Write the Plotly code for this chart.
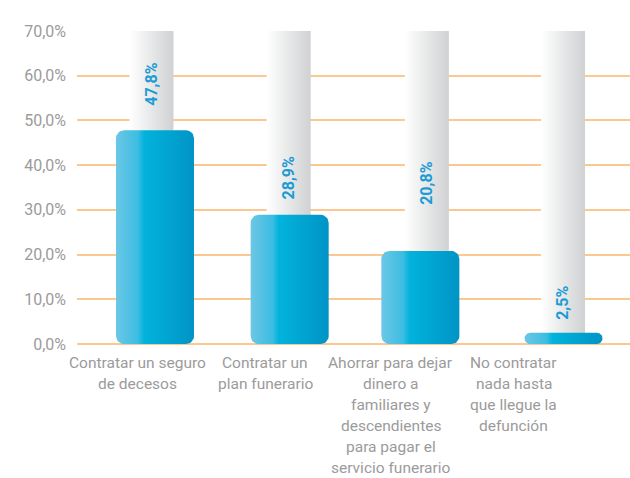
import numpy as np
import plotly.graph_objects as go

# Survey answers and their shares (%)
categories = [
    "Contratar un seguro<br>de decesos",
    "Contratar un<br>plan funerario",
    "Ahorrar para dejar<br>dinero a<br>familiares y<br>descendientes<br>para pagar el<br>servicio funerario",
    "No contratar<br>nada hasta<br>que llegue la<br>defunción",
]
values = [47.8, 28.9, 20.8, 2.5]
value_labels = ["47,8%", "28,9%", "20,8%", "2,5%"]

y_ticks = [0, 10, 20, 30, 40, 50, 60, 70]
y_tick_labels = ["0,0%", "10,0%", "20,0%", "30,0%", "40,0%", "50,0%", "60,0%", "70,0%"]

# ---- layout geometry ----
W, H = 630, 478
M_L, M_R, M_T, M_B = 77, 0, 31, 134
X_RANGE = [-0.556, 3.49]
Y_RANGE = [0, 70]
px_per_x = (W - M_L - M_R) / (X_RANGE[1] - X_RANGE[0])
px_per_y = (H - M_T - M_B) / (Y_RANGE[1] - Y_RANGE[0])

BAR_W = 78 / px_per_x        # blue bar width in axis units
TUBE_W = 44 / px_per_x       # grey column width in axis units
RADIUS_PX = 8
bar_shift_px = [2, 0, -6, 0.5]        # small horizontal nudges of the blue bars
tube_shift_px = [-1.5, -1, 0.5, 0]    # and of the grey columns
caption_pos = [-0.11, 0.82, 1.738, 2.641]   # category caption centres
label_shift_px = [46, 37, 68, 30]           # value label centre above bar top
CAPTION_FIRST_PX = 18.5                     # first caption line centre below axis
CAPTION_LINE_PX = 21                        # caption line spacing

BLUE_SCALE = [[0, "#6cc7e5"], [0.28, "#3cbde2"], [0.36, "#02b3dc"], [1, "#0094c6"]]
GREY_SCALE = [[0, "#ffffff"], [1, "#cfd1d2"]]
GRID = "#fcc892"
TEXT = "#9b9b9b"
VALUE_COLOR = "#1d9bd5"


def rounded_rect(xc, w, top, r_px):
    """Polygon for a bar from 0 to `top` with rounded corners (in axis units)."""
    h_px = top * px_per_y
    r_px = min(r_px, h_px / 2, w * px_per_x / 2)
    rx, ry = r_px / px_per_x, r_px / px_per_y
    x0, x1 = xc - w / 2, xc + w / 2
    t = np.linspace(0, np.pi / 2, 10)
    xs, ys = [], []
    xs += list(x0 + rx - rx * np.cos(t)); ys += list(ry - ry * np.sin(t))
    xs += list(x1 - rx + rx * np.sin(t)); ys += list(ry - ry * np.cos(t))
    xs += list(x1 - rx + rx * np.cos(t)); ys += list(top - ry + ry * np.sin(t))
    xs += list(x0 + rx - rx * np.sin(t)); ys += list(top - ry + ry * np.cos(t))
    xs.append(xs[0]); ys.append(ys[0])
    return xs, ys


fig = go.Figure()

# grey background columns spanning the whole scale
for i, _ in enumerate(values):
    xc = i + tube_shift_px[i] / px_per_x
    x0, x1 = xc - TUBE_W / 2, xc + TUBE_W / 2
    fig.add_trace(go.Scatter(
        x=[x0, x1, x1, x0, x0], y=[0, 0, Y_RANGE[1], Y_RANGE[1], 0],
        mode="lines", line=dict(width=0), fill="toself",
        fillgradient=dict(type="horizontal", colorscale=GREY_SCALE),
        hoverinfo="skip", showlegend=False,
    ))

# blue value bars
for i, v in enumerate(values):
    xs, ys = rounded_rect(i + bar_shift_px[i] / px_per_x, BAR_W, v, RADIUS_PX)
    fig.add_trace(go.Scatter(
        x=xs, y=ys, mode="lines", line=dict(width=0), fill="toself",
        fillgradient=dict(type="horizontal", colorscale=BLUE_SCALE),
        hovertemplate=f"{value_labels[i]}<extra></extra>", showlegend=False,
    ))

# rotated value labels inside the grey columns
for i, v in enumerate(values):
    fig.add_annotation(
        x=i + tube_shift_px[i] / px_per_x, y=v, yshift=label_shift_px[i],
        text=f"<b>{value_labels[i]}</b>",
        textangle=-90, showarrow=False, xanchor="center", yanchor="middle",
        font=dict(family="Roboto", size=16, color=VALUE_COLOR),
    )

# category captions, one annotation per line for tighter control of spacing
for pos, cat in zip(caption_pos, categories):
    for k, line in enumerate(cat.split("<br>")):
        fig.add_annotation(
            x=pos, y=0, yshift=-(CAPTION_FIRST_PX + k * CAPTION_LINE_PX),
            text=line, showarrow=False, xanchor="center", yanchor="middle",
            borderpad=0, font=dict(family="Roboto", size=15.5, color=TEXT),
        )

fig.update_layout(
    width=W, height=H,
    margin=dict(l=M_L, r=M_R, t=M_T, b=M_B, pad=0),
    paper_bgcolor="white", plot_bgcolor="white",
    showlegend=False,
    xaxis=dict(
        range=X_RANGE, showgrid=False, zeroline=False, showline=False,
        showticklabels=False, ticks="", automargin=False,
    ),
    yaxis=dict(
        range=Y_RANGE, tickmode="array", tickvals=y_ticks, ticktext=y_tick_labels,
        showgrid=True, gridcolor=GRID, gridwidth=1.5,
        zeroline=True, zerolinecolor=GRID, zerolinewidth=1.5,
        showline=False, ticks="", ticklabelstandoff=10, automargin=False,
        tickfont=dict(family="Roboto", size=16, color=TEXT),
    ),
)

fig.write_html("out.html")
